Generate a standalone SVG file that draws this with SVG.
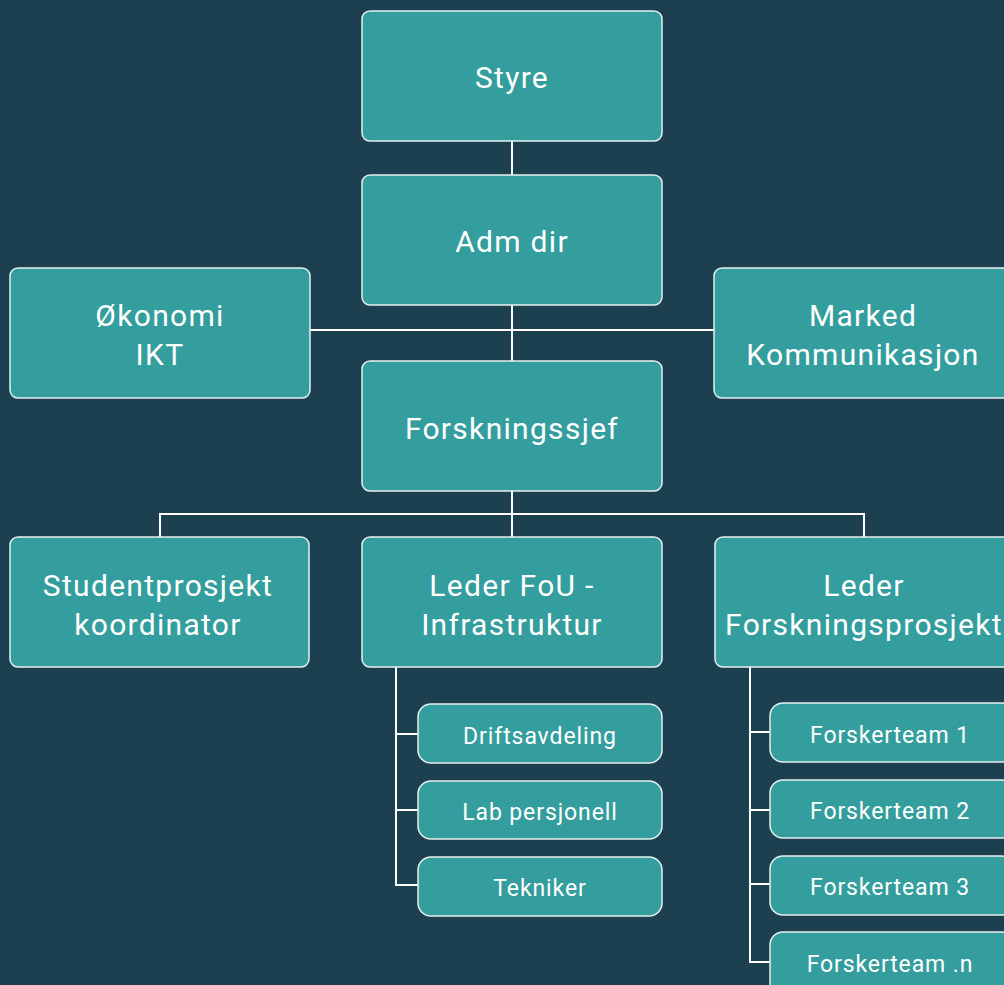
<svg xmlns="http://www.w3.org/2000/svg" width="1004" height="985" viewBox="0 0 1004 985">
  <style>
    .box { fill: #339e9d; stroke: #e8f0f0; stroke-width: 1.5; }
    .big { font-family: Roboto, "Liberation Sans", sans-serif; font-size: 30px; fill: #ffffff; text-anchor: middle; letter-spacing: 1.3px; }
    .small { font-family: Roboto, "Liberation Sans", sans-serif; font-size: 23px; fill: #ffffff; text-anchor: middle; letter-spacing: 0.9px; }
    .link { fill: none; stroke: #ffffff; stroke-width: 2; }
  </style>
  <rect width="1004" height="985" fill="#1d4050"/>

  <!-- connectors -->
  <g id="connectors" class="link">
    <path d="M512 141 V175"/>
    <path d="M512 305 V361"/>
    <path d="M310 330 H714"/>
    <path d="M512 491 V537"/>
    <path d="M160 537 V514 H864 V537"/>
    <path d="M396 667 V885 H418"/>
    <path d="M396 734 H418"/>
    <path d="M396 810 H418"/>
    <path d="M750 667 V962 H770"/>
    <path d="M750 732 H770"/>
    <path d="M750 810 H770"/>
    <path d="M750 884 H770"/>
  </g>

  <g id="styre">
    <rect class="box" x="362" y="11" width="300" height="130" rx="8"/>
    <text class="big" x="512" y="88">Styre</text>
  </g>
  <g id="adm-dir">
    <rect class="box" x="362" y="175" width="300" height="130" rx="8"/>
    <text class="big" x="512" y="252">Adm dir</text>
  </g>
  <g id="okonomi">
    <rect class="box" x="10" y="268" width="300" height="130" rx="8"/>
    <text class="big" x="160" y="326">Økonomi</text>
    <text class="big" x="160" y="365">IKT</text>
  </g>
  <g id="marked">
    <rect class="box" x="714" y="268" width="300" height="130" rx="8"/>
    <text class="big" x="863" y="326">Marked</text>
    <text class="big" x="863" y="365">Kommunikasjon</text>
  </g>
  <g id="forskningssjef">
    <rect class="box" x="362" y="361" width="300" height="130" rx="8"/>
    <text class="big" x="512" y="439">Forskningssjef</text>
  </g>
  <g id="studentprosjekt">
    <rect class="box" x="10" y="537" width="299" height="130" rx="8"/>
    <text class="big" x="158" y="596">Studentprosjekt</text>
    <text class="big" x="158" y="635">koordinator</text>
  </g>
  <g id="leder-fou">
    <rect class="box" x="362" y="537" width="300" height="130" rx="8"/>
    <text class="big" x="512" y="596">Leder FoU -</text>
    <text class="big" x="512" y="635">Infrastruktur</text>
  </g>
  <g id="leder-forskningsprosjekt">
    <rect class="box" x="715" y="537" width="300" height="130" rx="8"/>
    <text class="big" x="864" y="596">Leder</text>
    <text class="big" x="864" y="635">Forskningsprosjekt</text>
  </g>

  <g id="driftsavdeling">
    <rect class="box" x="418" y="704" width="244" height="59" rx="13"/>
    <text class="small" x="540" y="744">Driftsavdeling</text>
  </g>
  <g id="lab-persjonell">
    <rect class="box" x="418" y="781" width="244" height="58" rx="13"/>
    <text class="small" x="540" y="820">Lab persjonell</text>
  </g>
  <g id="tekniker">
    <rect class="box" x="418" y="857" width="244" height="59" rx="13"/>
    <text class="small" x="540" y="896">Tekniker</text>
  </g>

  <g id="forskerteam-1">
    <rect class="box" x="770" y="703" width="244" height="59" rx="13"/>
    <text class="small" x="890" y="743">Forskerteam 1</text>
  </g>
  <g id="forskerteam-2">
    <rect class="box" x="770" y="780" width="244" height="58" rx="13"/>
    <text class="small" x="890" y="819">Forskerteam 2</text>
  </g>
  <g id="forskerteam-3">
    <rect class="box" x="770" y="856" width="244" height="59" rx="13"/>
    <text class="small" x="890" y="895">Forskerteam 3</text>
  </g>
  <g id="forskerteam-n">
    <rect class="box" x="770" y="932" width="244" height="70" rx="13"/>
    <text class="small" x="890" y="972">Forskerteam .n</text>
  </g>
</svg>
